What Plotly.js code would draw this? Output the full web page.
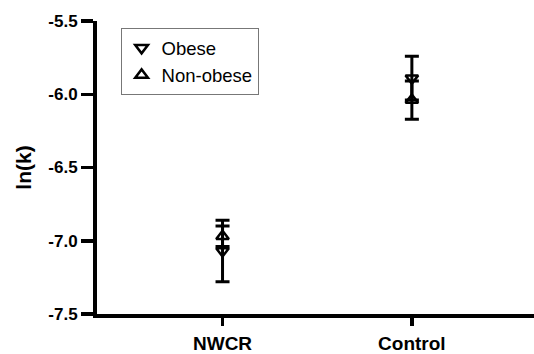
<!DOCTYPE html>
<html>
<head>
<meta charset="utf-8">
<script src="https://cdn.plot.ly/plotly-3.0.1.min.js"></script>
<style>html,body{margin:0;padding:0;background:#fff;}#chart{width:534px;height:354px;}</style>
</head>
<body>
<div id="chart"></div>
<script>
const categories = ["NWCR", "Control"];
const obeseMean = [-7.07, -5.89];
const obeseErr = [0.21, 0.15];
const nonObeseMean = [-6.97, -6.04];
const nonObeseErr = [0.07, 0.13];
const yTickVals = [-7.5, -7.0, -6.5, -6.0, -5.5];
const yTickText = ["-7.5", "-7.0", "-6.5", "-6.0", "-5.5"];

const markerBase = {size: 11, color: "#000", line: {color: "#000", width: 2.5}};
const errBase = {type: "data", visible: true, color: "#000", thickness: 3, width: 7};

const traces = [
  {
    x: categories, y: obeseMean, name: "Obese", type: "scatter", mode: "markers",
    marker: Object.assign({symbol: "triangle-down-open"}, markerBase),
    error_y: Object.assign({array: obeseErr}, errBase)
  },
  {
    x: categories, y: nonObeseMean, name: "Non-obese", type: "scatter", mode: "markers",
    marker: Object.assign({symbol: "triangle-up-open"}, markerBase),
    error_y: Object.assign({array: nonObeseErr}, errBase)
  }
];

const layout = {
  width: 534, height: 354,
  margin: {l: 96.5, r: 0, t: 20.7, b: 39.7},
  paper_bgcolor: "#fff", plot_bgcolor: "#fff",
  font: {family: "Liberation Sans, Arial, sans-serif", color: "#000"},
  showlegend: true,
  legend: {
    x: 0.054, y: 0.975, xanchor: "left", yanchor: "top",
    bordercolor: "#777", borderwidth: 1, bgcolor: "#fff",
    itemwidth: 30,
    font: {size: 18.5, family: "Liberation Sans, Arial, sans-serif", color: "#000"}
  },
  xaxis: {
    type: "category", range: [-0.663, 1.645],
    showgrid: false, zeroline: false, showline: true, linecolor: "#000", linewidth: 4,
    ticks: "outside", ticklen: 8, tickwidth: 3.5, tickcolor: "#000",
    tickfont: {size: 19, family: "Liberation Sans, Arial, sans-serif", weight: "bold"},
    ticklabelstandoff: 1
  },
  yaxis: {
    range: [-7.5, -5.5], tickvals: yTickVals, ticktext: yTickText,
    showgrid: false, zeroline: false, showline: true, linecolor: "#000", linewidth: 4,
    ticks: "outside", ticklen: 12, tickwidth: 3.5, tickcolor: "#000",
    tickfont: {size: 17, family: "Liberation Sans, Arial, sans-serif", weight: "bold"},
    title: {text: "ln(k)", font: {size: 21, weight: "bold"}, standoff: 12}
  }
};

Plotly.newPlot("chart", traces, layout, {displayModeBar: false, staticPlot: true});
</script>
</body>
</html>
